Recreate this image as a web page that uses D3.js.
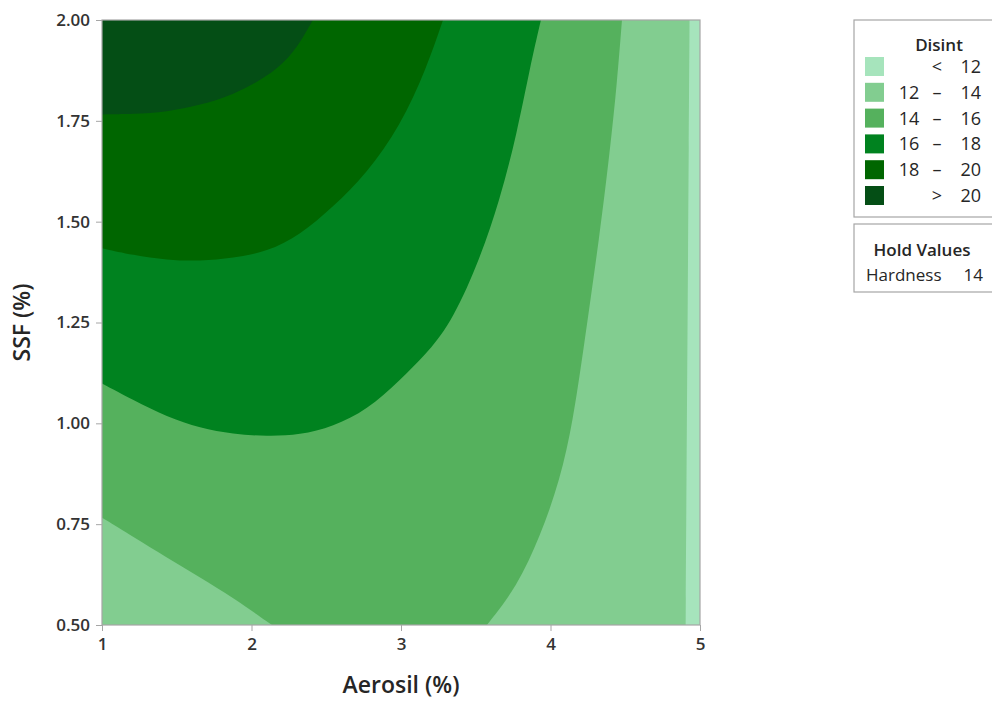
<!DOCTYPE html>
<html>
<head>
<meta charset="utf-8">
<script src="https://d3js.org/d3.v7.min.js"></script>
<style>
  body { margin: 0; background: #fff; }
  text { font-family: "Open Sans", "Noto Sans", sans-serif; fill: #262626; }
</style>
</head>
<body>
<script>
// legend levels and colours
var bandLabels = [["<", "12"], ["12", "14"], ["14", "16"], ["16", "18"], ["18", "20"], [">", "20"]];
var bandColors = ["#a6e4bc", "#82cd90", "#55b15d", "#00821f", "#006600", "#044e15"];

var xTicks = [1, 2, 3, 4, 5];
var yTicks = [0.5, 0.75, 1.0, 1.25, 1.5, 1.75, 2.0];

// contour lines, [Aerosil, SSF]
var c12 = [[4.904, 0.5], [4.91, 0.9], [4.918, 1.3], [4.925, 1.7], [4.93, 2.0]];
var c14a = [[1.0, 0.766], [1.207, 0.719], [1.435, 0.667], [1.656, 0.618], [1.876, 0.568], [2.137, 0.5]];
var c14b = [[3.575, 0.5], [3.776, 0.595], [3.93, 0.719], [4.064, 0.859], [4.151, 1.008], [4.217, 1.174],
            [4.331, 1.472], [4.398, 1.678], [4.445, 1.844], [4.478, 2.0]];
var c16 = [[1.0, 1.099], [1.207, 1.058], [1.435, 1.016], [1.656, 0.988], [1.876, 0.973], [2.104, 0.968],
           [2.324, 0.971], [2.545, 0.992], [2.773, 1.033], [2.993, 1.107], [3.161, 1.169], [3.328, 1.244],
           [3.508, 1.388], [3.662, 1.554], [3.776, 1.72], [3.863, 1.883], [3.936, 2.0]];
var c18 = [[1.0, 1.434], [1.207, 1.417], [1.435, 1.405], [1.656, 1.402], [1.876, 1.41], [2.104, 1.425],
           [2.324, 1.467], [2.545, 1.536], [2.773, 1.621], [2.993, 1.735], [3.174, 1.883], [3.281, 2.0]];
var c20 = [[1.0, 1.766], [1.207, 1.767], [1.435, 1.772], [1.656, 1.789], [1.876, 1.814], [2.104, 1.859],
           [2.258, 1.908], [2.35, 1.96], [2.41, 2.0]];

var holdName = "Hardness", holdValue = "14";

var width = 992, height = 701;
var pL = 102, pR = 700, pT = 20, pB = 625;

var svg = d3.select("body").append("svg")
    .attr("width", width)
    .attr("height", height);

var x = d3.scaleLinear().domain([1, 5]).range([pL, pR]);
var y = d3.scaleLinear().domain([0.5, 2.0]).range([pB, pT]);

svg.append("clipPath").attr("id", "plotclip")
  .append("rect")
    .attr("x", pL).attr("y", pT)
    .attr("width", pR - pL).attr("height", pB - pT);

var curve = d3.line()
    .x(function(d) { return x(d[0]); })
    .y(function(d) { return y(d[1]); })
    .curve(d3.curveBasis);

// join contour pieces with straight edges along the frame, then close
function region(pieces, corners) {
  var p = pieces.map(function(s, i) {
    var s2 = curve(s);
    return i == 0 ? s2 : s2.replace(/^M/, "L");
  }).join("");
  corners.forEach(function(c) { p += "L" + x(c[0]) + "," + y(c[1]); });
  return p + "Z";
}

var g = svg.append("g").attr("clip-path", "url(#plotclip)");

g.append("rect")
    .attr("x", x(1)).attr("y", y(2))
    .attr("width", x(5) - x(1)).attr("height", y(0.5) - y(2))
    .attr("fill", bandColors[0]);

var regions = [
  region([c12], [[1, 2], [1, 0.5]]),
  region([c14a, c14b], [[1, 2]]),
  region([c16], [[1, 2]]),
  region([c18], [[1, 2]]),
  region([c20], [[1, 2]])
];

g.selectAll("path.band")
  .data(regions)
  .enter().append("path")
    .attr("class", "band")
    .attr("d", function(d) { return d; })
    .attr("fill", function(d, i) { return bandColors[i + 1]; });

// frame
svg.append("rect")
    .attr("x", pL).attr("y", pT)
    .attr("width", pR - pL).attr("height", pB - pT)
    .attr("fill", "none")
    .attr("stroke", "#a6a6a6")
    .attr("stroke-width", 1.2);

var xAxis = svg.append("g")
    .attr("transform", "translate(0," + pB + ")")
    .call(d3.axisBottom(x).tickValues(xTicks).tickFormat(d3.format("d")).tickSize(6).tickPadding(7));
var yAxis = svg.append("g")
    .attr("transform", "translate(" + pL + ",0)")
    .call(d3.axisLeft(y).tickValues(yTicks).tickFormat(d3.format(".2f")).tickSize(6).tickPadding(6));

[xAxis, yAxis].forEach(function(a) {
  a.select(".domain").remove();
  a.selectAll(".tick line").attr("stroke", "#a6a6a6");
  a.selectAll(".tick text")
    .style("font-family", '"Open Sans", sans-serif')
    .style("font-size", "17px")
    .style("font-weight", 600)
    .style("fill", "#333");
});

svg.append("text")
    .attr("x", (pL + pR) / 2)
    .attr("y", 693)
    .attr("text-anchor", "middle")
    .style("font-size", "23px")
    .style("font-weight", 600)
    .text("Aerosil (%)");

svg.append("text")
    .attr("transform", "translate(30," + (pT + pB) / 2 + ") rotate(-90)")
    .attr("text-anchor", "middle")
    .style("font-size", "23px")
    .style("font-weight", 600)
    .text("SSF (%)");

// legend
var lg = svg.append("g");
lg.append("rect")
    .attr("x", 854).attr("y", 20).attr("width", 140).attr("height", 197)
    .attr("fill", "#fff").attr("stroke", "#a6a6a6").attr("stroke-width", 1.2);
lg.append("text")
    .attr("x", 939).attr("y", 51)
    .attr("text-anchor", "middle")
    .style("font-size", "17px").style("font-weight", 600)
    .text("Disint");

var rows = lg.selectAll("g.row")
  .data(bandLabels)
  .enter().append("g")
    .attr("class", "row")
    .attr("transform", function(d, i) { return "translate(0," + (57 + i * 25.8) + ")"; });
rows.append("rect")
    .attr("x", 865).attr("y", 0).attr("width", 19).attr("height", 19)
    .attr("fill", function(d, i) { return bandColors[i]; });
rows.append("text")
    .attr("x", 909).attr("y", 16)
    .attr("text-anchor", "middle")
    .style("font-size", "18px")
    .text(function(d) { return d[0] == "<" || d[0] == ">" ? "" : d[0]; });
rows.append("text")
    .attr("x", 937).attr("y", 16)
    .attr("text-anchor", "middle")
    .style("font-size", "18px")
    .text(function(d) { return d[0] == "<" || d[0] == ">" ? d[0] : "–"; });
rows.append("text")
    .attr("x", 981).attr("y", 16)
    .attr("text-anchor", "end")
    .style("font-size", "18px")
    .text(function(d) { return d[1]; });

lg.append("rect")
    .attr("x", 854).attr("y", 224).attr("width", 140).attr("height", 68)
    .attr("fill", "#fff").attr("stroke", "#a6a6a6").attr("stroke-width", 1.2);
lg.append("text")
    .attr("x", 922).attr("y", 256)
    .attr("text-anchor", "middle")
    .style("font-size", "17px").style("font-weight", 600)
    .text("Hold Values");
lg.append("text")
    .attr("x", 866).attr("y", 281)
    .style("font-size", "17px")
    .text(holdName);
lg.append("text")
    .attr("x", 983).attr("y", 281)
    .attr("text-anchor", "end")
    .style("font-size", "17px")
    .text(holdValue);
</script>
</body>
</html>
